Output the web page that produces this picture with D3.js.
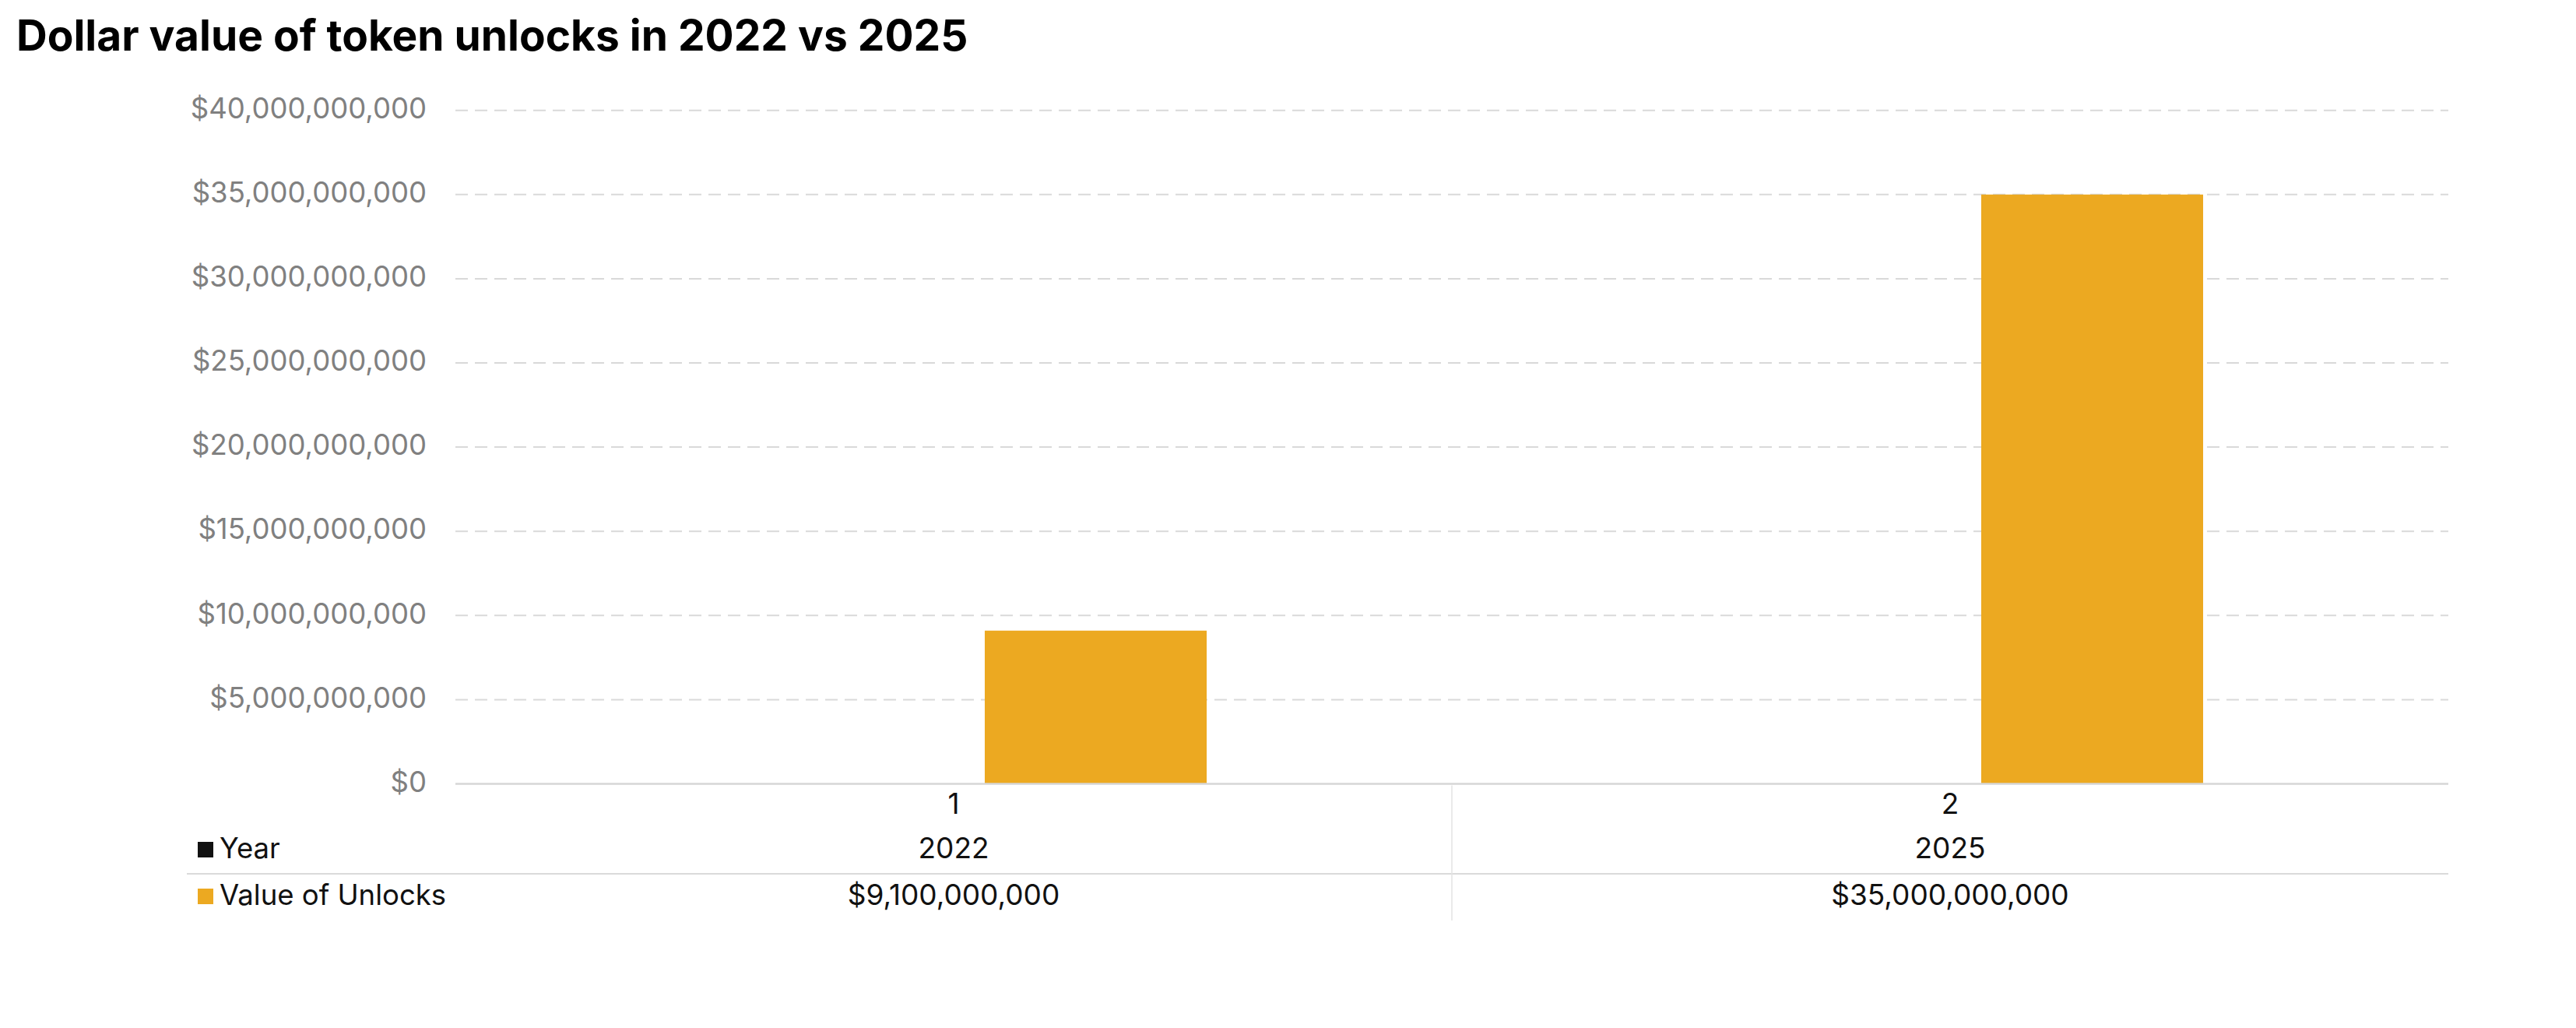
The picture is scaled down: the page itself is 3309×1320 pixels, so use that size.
<!DOCTYPE html>
<html>
<head>
<meta charset="utf-8">
<script src="https://cdn.jsdelivr.net/npm/d3@7"></script>
<style>
  body { margin: 0; background: #fff; }
  text { font-family: Inter, "Noto Sans", sans-serif; }
</style>
</head>
<body>
<div id="chart"></div>
<script>
// data
var categories = ["1", "2"];
var series = ["Year", "Value of Unlocks"];
var years = [2022, 2025];
var unlockValues = [9100000000, 35000000000];
var yTicks = [0, 5e9, 10e9, 15e9, 20e9, 25e9, 30e9, 35e9, 40e9];
var seriesColors = ["#111111", "#eca921"];

var width = 3309, height = 1320;
var plotLeft = 585, plotRight = 3145, plotTop = 141.7, plotBottom = 1006.5;

var svg = d3.select("#chart")
	.append("svg")
	.attr("width", width)
	.attr("height", height);

var rows = categories.map(function(c, i){
	return { cat: c, values: [years[i], unlockValues[i]] };
});

var x0 = d3.scaleBand()
	.domain(categories)
	.range([plotLeft, plotRight])
	.padding(0);

var x1 = d3.scaleBand()
	.domain(series)
	.range([0, x0.bandwidth()])
	.paddingInner(0.219)
	.paddingOuter(0.863);

var y = d3.scaleLinear()
	.domain([0, 40e9])
	.range([plotBottom, plotTop]);

var fmt = d3.format("$,");

// title
svg.append("text")
	.attr("x", 21)
	.attr("y", 65)
	.style("font-size", "55px")
	.style("font-weight", "700")
	.style("fill", "#000")
	.text("Dollar value of token unlocks in 2022 vs 2025");

// dashed grid
svg.selectAll(".grid")
	.data(yTicks.filter(function(d){ return d > 0; }))
	.enter()
	.append("line")
	.attr("class", "grid")
	.attr("x1", plotLeft)
	.attr("x2", plotRight)
	.attr("y1", function(d){ return y(d); })
	.attr("y2", function(d){ return y(d); })
	.style("stroke", "#d9d9d9")
	.style("stroke-width", 2)
	.style("stroke-dasharray", "16,9");

// y labels
svg.selectAll(".ylab")
	.data(yTicks)
	.enter()
	.append("text")
	.attr("class", "ylab")
	.attr("x", 548)
	.attr("y", function(d){ return y(d); })
	.attr("dy", "0.28em")
	.attr("text-anchor", "end")
	.style("font-size", "36.5px")
	.style("fill", "#808080")
	.text(function(d){ return fmt(d); });

// bars
var groups = svg.selectAll(".grp")
	.data(rows)
	.enter()
	.append("g")
	.attr("class", "grp")
	.attr("transform", function(d){ return "translate(" + x0(d.cat) + ",0)"; });

groups.selectAll("rect")
	.data(function(d){ return d.values.map(function(v, i){ return { key: series[i], value: v, i: i }; }); })
	.enter()
	.append("rect")
	.attr("x", function(d){ return x1(d.key); })
	.attr("width", x1.bandwidth())
	.attr("y", function(d){ return y(d.value); })
	.attr("height", function(d){ return y(0) - y(d.value); })
	.style("fill", function(d){ return seriesColors[d.i]; });

// baseline
svg.append("line")
	.attr("x1", plotLeft).attr("x2", plotRight)
	.attr("y1", plotBottom).attr("y2", plotBottom)
	.style("stroke", "#d6d6d6")
	.style("stroke-width", 2.5);

// category ticks
svg.selectAll(".xlab")
	.data(categories)
	.enter()
	.append("text")
	.attr("class", "xlab")
	.attr("x", function(d){ return x0(d) + x0.bandwidth() / 2; })
	.attr("y", 1045)
	.attr("text-anchor", "middle")
	.style("font-size", "37px")
	.style("fill", "#111")
	.text(function(d){ return d; });

// data table
var tableRows = [
	{ label: series[0], color: seriesColors[0], vals: years.map(String), base: 1102 },
	{ label: series[1], color: seriesColors[1], vals: unlockValues.map(fmt), base: 1162 }
];

svg.append("line")
	.attr("x1", 240).attr("x2", plotRight)
	.attr("y1", 1122).attr("y2", 1122)
	.style("stroke", "#dadada")
	.style("stroke-width", 2);

svg.selectAll(".vdiv")
	.data(categories.slice(1))
	.enter()
	.append("line")
	.attr("x1", function(d){ return x0(d); })
	.attr("x2", function(d){ return x0(d); })
	.attr("y1", plotBottom + 2)
	.attr("y2", 1182)
	.style("stroke", "#e3e3e3")
	.style("stroke-width", 1.5);

tableRows.forEach(function(r){
	svg.append("rect")
		.attr("x", 254)
		.attr("y", r.base - 21)
		.attr("width", 20)
		.attr("height", 20)
		.style("fill", r.color);
	svg.append("text")
		.attr("x", 282)
		.attr("y", r.base)
		.style("font-size", "36.5px")
		.style("fill", "#111")
		.text(r.label);
	svg.selectAll(null)
		.data(r.vals)
		.enter()
		.append("text")
		.attr("x", function(d, i){ return x0(categories[i]) + x0.bandwidth() / 2; })
		.attr("y", r.base)
		.attr("text-anchor", "middle")
		.style("font-size", "37px")
		.style("fill", "#111")
		.text(function(d){ return d; });
});
</script>
</body>
</html>
